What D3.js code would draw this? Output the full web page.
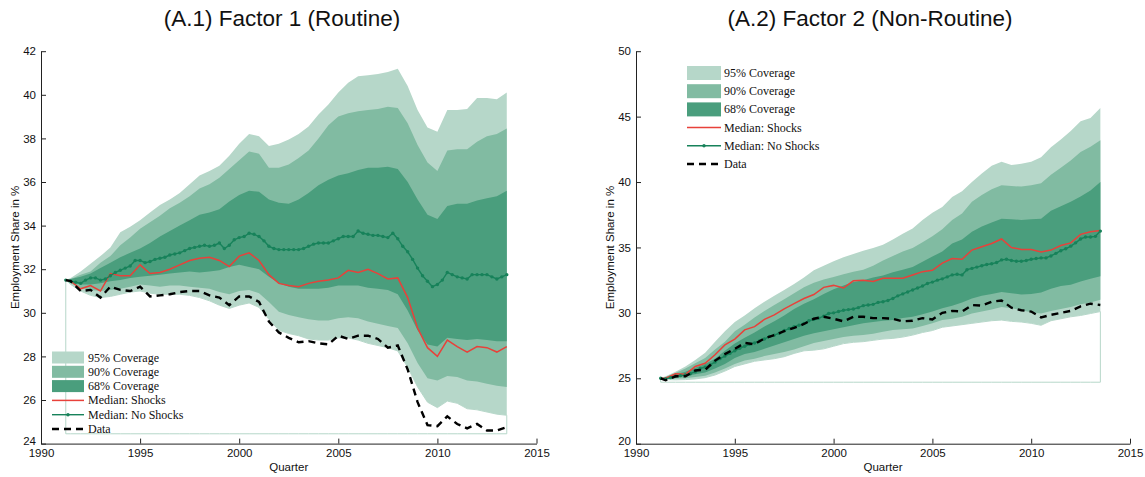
<!DOCTYPE html>
<html>
<head>
<meta charset="utf-8">
<script src="https://cdn.jsdelivr.net/npm/d3@7"></script>
<style>
  html, body { margin: 0; padding: 0; background: #fff; }
  svg { display: block; font-family: "Liberation Sans", Arial, Helvetica, sans-serif; }
  .legend text { font-family: "Liberation Serif", "Times New Roman", serif; font-size: 12px; fill: #111; }
</style>
</head>
<body>
<svg id="chart" width="1145" height="477"></svg>
<script>
// sampling grids (years): half-year for bands / data / shocks median, quarterly for the no-shocks median
const halfYears = [1991.25].concat(d3.range(1991.5, 2013.51, 0.5))
const quarters = d3.range(1991.25, 2013.51, 0.25)

const xTicks = [1990, 1995, 2000, 2005, 2010, 2015]
const legendLabels = ['95% Coverage', '90% Coverage', '68% Coverage', 'Median: Shocks', 'Median: No Shocks', 'Data']

// ---- (A.1) Factor 1 (Routine) ----
const routineHi95 = [31.5, 31.6, 31.9, 32.25, 32.6, 33.0, 33.7, 33.95, 34.25, 34.6, 34.95, 35.2, 35.5, 35.9, 36.3, 36.5, 36.75, 37.2, 37.75, 38.2,
  38.1, 37.65, 37.75, 37.95, 38.2, 38.55, 39.1, 39.55, 40.1, 40.55, 40.85, 40.9, 40.95, 41.05, 41.2, 40.4, 39.3, 38.5, 38.3, 39.3,
  39.3, 39.35, 39.85, 39.85, 39.8, 40.1]
const routineHi90 = [31.5, 31.55, 31.75, 31.9, 32.3, 32.6, 33.1, 33.45, 33.85, 34.15, 34.45, 34.8, 35.05, 35.35, 35.7, 35.9, 36.2, 36.6, 37.0, 37.4,
  37.3, 36.65, 36.65, 36.8, 37.1, 37.45, 38.0, 38.6, 39.0, 39.15, 39.25, 39.3, 39.35, 39.45, 39.4, 38.7, 37.7, 36.9, 36.5, 37.45,
  37.5, 37.5, 37.85, 38.1, 38.2, 38.45]
const routineHi68 = [31.5, 31.55, 31.65, 31.8, 32.05, 32.3, 32.55, 32.75, 32.95, 33.2, 33.5, 33.75, 34.0, 34.25, 34.5, 34.6, 34.75, 35.1, 35.4, 35.6,
  35.55, 35.2, 35.05, 35.0, 35.2, 35.5, 35.85, 36.1, 36.3, 36.4, 36.55, 36.65, 36.65, 36.7, 36.6, 36.0, 35.2, 34.5, 34.3, 34.9,
  35.0, 35.0, 35.15, 35.25, 35.35, 35.6]
const routineLo68 = [31.5, 31.4, 31.3, 31.3, 31.35, 31.45, 31.5, 31.6, 31.65, 31.7, 31.75, 31.8, 31.85, 31.9, 31.85, 31.9, 31.95, 32.1, 32.2, 32.1,
  32.0, 31.65, 31.35, 31.2, 31.1, 31.1, 31.1, 31.15, 31.25, 31.25, 31.25, 31.15, 31.1, 31.05, 30.85, 30.1, 29.2, 28.55, 28.45, 28.85,
  28.8, 28.75, 28.8, 28.75, 28.7, 28.7]
const routineLo90 = [31.5, 31.35, 31.15, 31.05, 31.0, 31.05, 31.1, 31.2, 31.3, 31.25, 31.2, 31.25, 31.25, 31.2, 31.15, 31.1, 30.95, 30.85, 31.0, 31.05,
  30.9, 30.5, 30.05, 29.9, 29.8, 29.7, 29.65, 29.65, 29.75, 29.8, 29.75, 29.6, 29.5, 29.4, 29.3, 28.6, 27.7, 27.0, 26.9, 27.1,
  27.05, 26.9, 26.85, 26.75, 26.65, 26.6]
const routineLo95 = [31.5, 31.3, 31.0, 30.8, 30.7, 30.75, 30.85, 30.95, 31.0, 30.9, 30.85, 30.85, 30.85, 30.8, 30.7, 30.55, 30.35, 30.2, 30.35, 30.45,
  30.25, 29.7, 29.2, 29.05, 28.95, 28.8, 28.75, 28.75, 28.85, 28.85, 28.75, 28.6, 28.5, 28.4, 28.25, 27.5, 26.6, 25.9, 25.65, 25.95,
  25.85, 25.6, 25.55, 25.45, 25.35, 25.3]
const routineShocks = [31.5, 31.45, 31.1, 31.25, 31.0, 31.8, 31.7, 31.7, 32.2, 31.8, 31.85, 32.0, 32.2, 32.4, 32.5, 32.55, 32.4, 32.12, 32.6, 32.75,
  32.4, 31.75, 31.35, 31.25, 31.2, 31.35, 31.45, 31.5, 31.6, 31.95, 31.85, 32.0, 31.8, 31.55, 31.6, 30.7, 29.3, 28.4, 28.0, 28.75,
  28.45, 28.2, 28.45, 28.4, 28.2, 28.45]
const routineData = [31.5, 31.45, 31.0, 31.05, 30.7, 31.2, 31.05, 31.0, 31.2, 30.75, 30.8, 30.85, 30.95, 31.0, 31.0, 30.8, 30.7, 30.35, 30.75, 30.75,
  30.5, 29.6, 29.1, 28.85, 28.65, 28.7, 28.6, 28.55, 28.95, 28.8, 28.95, 28.95, 28.8, 28.4, 28.5, 27.4, 25.9, 24.85, 24.8, 25.25,
  24.9, 24.7, 24.9, 24.6, 24.6, 24.75]
const routineNoShocks = [31.5, 31.45, 31.4,
  31.35, 31.5, 31.6, 31.6,
  31.5, 31.55, 31.7, 31.85,
  31.95, 32.05, 32.15, 32.4,
  32.4, 32.3, 32.35, 32.45,
  32.5, 32.55, 32.65, 32.7,
  32.75, 32.85, 32.95, 33.0,
  33.05, 33.1, 33.05, 33.1,
  33.2, 32.95, 33.1, 33.35,
  33.45, 33.5, 33.65, 33.6,
  33.5, 33.3, 33.05, 32.95,
  32.9, 32.9, 32.9, 32.9,
  32.9, 32.95, 33.05, 33.15,
  33.2, 33.2, 33.2, 33.3,
  33.4, 33.5, 33.5, 33.5,
  33.75, 33.65, 33.6, 33.55,
  33.55, 33.5, 33.45, 33.65,
  33.4, 33.05, 32.8, 32.45,
  32.05, 31.7, 31.45, 31.2,
  31.3, 31.5, 31.85, 31.75,
  31.65, 31.6, 31.55, 31.75,
  31.75, 31.75, 31.75, 31.65,
  31.55, 31.65, 31.75]

// ---- (A.2) Factor 2 (Non-Routine) ----
const nonRoutineHi95 = [25.0, 25.15, 25.5, 25.9, 26.4, 26.95, 27.8, 28.6, 29.3, 29.8, 30.35, 30.85, 31.3, 31.75, 32.2, 32.7, 33.25, 33.6, 33.95, 34.25,
  34.5, 34.75, 34.95, 35.2, 35.6, 36.05, 36.45, 37.1, 37.65, 38.1, 38.85, 39.3, 40.0, 40.65, 41.25, 41.55, 41.3, 41.4, 41.55, 41.9,
  42.65, 43.25, 43.9, 44.65, 44.9, 45.65]
const nonRoutineHi90 = [25.0, 25.1, 25.4, 25.75, 26.15, 26.55, 27.2, 27.8, 28.6, 29.1, 29.65, 30.15, 30.6, 31.05, 31.5, 31.95, 32.3, 32.55, 32.75, 32.95,
  33.15, 33.3, 33.6, 34.0, 34.35, 34.7, 34.95, 35.4, 35.85, 36.4, 37.1, 37.6, 38.5, 39.0, 39.45, 39.75, 39.7, 39.65, 39.75, 39.9,
  40.55, 41.1, 41.65, 42.3, 42.7, 43.2]
const nonRoutineHi68 = [25.0, 25.05, 25.3, 25.5, 25.8, 26.1, 26.5, 27.1, 27.65, 28.1, 28.5, 28.95, 29.35, 29.8, 30.3, 30.7, 31.05, 31.45, 31.8, 32.1,
  32.35, 32.5, 32.7, 32.85, 33.1, 33.3, 33.5, 33.9, 34.3, 34.7, 35.3, 35.6, 36.2, 36.6, 36.9, 37.2, 37.15, 37.1, 37.15, 37.2,
  37.8, 38.15, 38.5, 38.9, 39.35, 40.0]
const nonRoutineLo68 = [25.0, 24.98, 25.05, 25.15, 25.3, 25.45, 25.75, 26.1, 26.55, 26.85, 27.0, 27.25, 27.5, 27.75, 28.0, 28.25, 28.45, 28.6, 28.75, 28.9,
  29.05, 29.2, 29.3, 29.4, 29.45, 29.6, 29.7, 29.9, 30.1, 30.35, 30.55, 30.8, 31.1, 31.3, 31.45, 31.6, 31.5, 31.4, 31.45, 31.55,
  31.85, 32.05, 32.15, 32.4, 32.6, 32.8]
const nonRoutineLo90 = [25.0, 24.95, 24.98, 25.0, 25.1, 25.2, 25.45, 25.75, 26.1, 26.35, 26.5, 26.7, 26.85, 27.0, 27.2, 27.45, 27.7, 27.85, 28.0, 28.15,
  28.25, 28.3, 28.4, 28.55, 28.7, 28.75, 28.8, 29.0, 29.2, 29.45, 29.55, 29.7, 29.95, 30.1, 30.25, 30.45, 30.35, 30.2, 30.05, 29.95,
  30.15, 30.3, 30.45, 30.65, 30.8, 31.0]
const nonRoutineLo95 = [25.0, 24.9, 24.88, 24.9, 24.95, 25.05, 25.25, 25.55, 25.9, 26.1, 26.3, 26.4, 26.5, 26.65, 26.9, 27.1, 27.15, 27.25, 27.45, 27.65,
  27.75, 27.8, 27.9, 28.0, 28.05, 28.15, 28.3, 28.5, 28.65, 28.9, 29.0, 29.1, 29.2, 29.3, 29.4, 29.45, 29.35, 29.3, 29.2, 29.05,
  29.4, 29.55, 29.7, 29.8, 29.95, 30.1]
const nonRoutineShocks = [25.0, 25.0, 25.35, 25.3, 25.9, 26.15, 26.8, 27.55, 28.0, 28.7, 28.95, 29.5, 29.85, 30.3, 30.7, 31.1, 31.4, 31.95, 32.1, 31.9,
  32.45, 32.5, 32.4, 32.65, 32.65, 32.65, 32.9, 33.15, 33.25, 33.8, 34.15, 34.1, 34.8, 35.05, 35.3, 35.65, 35.0, 34.85, 34.85, 34.65,
  34.8, 35.15, 35.35, 36.0, 36.2, 36.3]
const nonRoutineData = [25.0, 24.85, 25.15, 25.15, 25.6, 25.65, 26.35, 26.85, 27.25, 27.7, 27.6, 28.05, 28.3, 28.6, 28.85, 29.15, 29.55, 29.7, 29.55, 29.35,
  29.7, 29.7, 29.6, 29.6, 29.55, 29.35, 29.4, 29.6, 29.5, 30.0, 30.15, 30.1, 30.6, 30.55, 30.85, 30.95, 30.4, 30.2, 30.1, 29.65,
  29.85, 30.0, 30.15, 30.5, 30.7, 30.6]
const nonRoutineNoShocks = [25.0, 24.95, 25.05,
  25.15, 25.2, 25.25, 25.35,
  25.5, 25.75, 25.85, 26.0,
  26.25, 26.5, 26.7, 26.9,
  27.1, 27.3, 27.45, 27.6,
  27.7, 27.85, 28.0, 28.2,
  28.3, 28.45, 28.65, 28.8,
  28.95, 29.05, 29.2, 29.4,
  29.5, 29.6, 29.75, 29.95,
  30.0, 30.1, 30.2, 30.25,
  30.3, 30.4, 30.55, 30.6,
  30.65, 30.8, 30.85, 30.95,
  31.1, 31.3, 31.45, 31.6,
  31.75, 31.9, 32.05, 32.25,
  32.35, 32.5, 32.6, 32.75,
  32.9, 32.95, 32.9, 33.3,
  33.4, 33.5, 33.6, 33.7,
  33.75, 33.85, 34.05, 34.1,
  34.0, 33.95, 33.95, 34.0,
  34.1, 34.15, 34.2, 34.2,
  34.35, 34.55, 34.75, 34.9,
  35.1, 35.35, 35.65, 35.8,
  35.8, 35.85, 36.25]

const C95 = '#b6d7c9'
const C90 = '#81bba2'
const C68 = '#4a9e7d'
const RED = '#e8413a'
const GREEN = '#17825a'

const svg = d3.select('#chart')

const panels = [
  {
    title: '(A.1) Factor 1 (Routine)', titleX: 282,
    xRange: [41, 536.5], yRange: [443.6, 51.2], yDomain: [24, 42], yTicks: d3.range(24, 43, 2),
    baseline: 24.45, ylabX: 19,
    legend: { x: 52, y: 357.5, w: 32, h: 12, row: 14.3, textX: 88 },
    hi95: routineHi95, hi90: routineHi90, hi68: routineHi68, lo68: routineLo68, lo90: routineLo90, lo95: routineLo95,
    shocks: routineShocks, noShocks: routineNoShocks, data: routineData
  },
  {
    title: '(A.2) Factor 2 (Non-Routine)', titleX: 870,
    xRange: [636, 1130], yRange: [443.7, 51.2], yDomain: [20, 50], yTicks: d3.range(20, 51, 5),
    baseline: 24.7, ylabX: 614,
    legend: { x: 687, y: 73, w: 34, h: 14, row: 18.2, textX: 724 },
    hi95: nonRoutineHi95, hi90: nonRoutineHi90, hi68: nonRoutineHi68, lo68: nonRoutineLo68, lo90: nonRoutineLo90, lo95: nonRoutineLo95,
    shocks: nonRoutineShocks, noShocks: nonRoutineNoShocks, data: nonRoutineData
  }
]

panels.forEach(p => {
  const x = d3.scaleLinear().domain([1990, 2015]).range(p.xRange)
  const y = d3.scaleLinear().domain(p.yDomain).range(p.yRange)
  const g = svg.append('g')

  const band = (lo, hi) => d3.area()
    .x((d, i) => x(halfYears[i])).y0((d, i) => y(lo[i])).y1((d, i) => y(hi[i]))(hi)

  g.append('path').attr('d', band(p.lo95, p.hi95)).attr('fill', C95)
  g.append('path').attr('d', band(p.lo90, p.hi90)).attr('fill', C90)
  g.append('path').attr('d', band(p.lo68, p.hi68)).attr('fill', C68)

  // white base of the stacked areas, with its thin outline
  const base = d3.area().x((d, i) => x(halfYears[i])).y0(y(p.baseline)).y1(d => y(d))
  g.append('path').attr('d', base(p.lo95)).attr('fill', '#fff')
    .attr('stroke', C95).attr('stroke-width', 1)

  const line = xs => d3.line().x((d, i) => x(xs[i])).y(d => y(d))

  g.append('path').attr('d', line(halfYears)(p.shocks))
    .attr('fill', 'none').attr('stroke', RED).attr('stroke-width', 1.5)

  g.append('path').attr('d', line(quarters)(p.noShocks))
    .attr('fill', 'none').attr('stroke', GREEN).attr('stroke-width', 1.4)
  g.append('g').selectAll('circle').data(p.noShocks).join('circle')
    .attr('cx', (d, i) => x(quarters[i])).attr('cy', d => y(d)).attr('r', 1.7).attr('fill', GREEN)

  g.append('path').attr('d', line(halfYears)(p.data))
    .attr('fill', 'none').attr('stroke', '#000').attr('stroke-width', 2.4)
    .attr('stroke-dasharray', '7,5')

  // axes (MATLAB style: ticks pointing in, no box)
  const xAxisG = g.append('g').attr('transform', `translate(0,${p.yRange[0]})`)
    .call(d3.axisBottom(x).tickValues(xTicks).tickFormat(d3.format('d'))
      .tickSizeInner(-5).tickSizeOuter(0).tickPadding(5))
  const yAxisG = g.append('g').attr('transform', `translate(${p.xRange[0]},0)`)
    .call(d3.axisLeft(y).tickValues(p.yTicks).tickSizeInner(-5).tickSizeOuter(0).tickPadding(5))
  ;[xAxisG, yAxisG].forEach(a => {
    a.attr('font-family', null).attr('font-size', 11.5)
    a.select('.domain').attr('stroke', '#222')
    a.selectAll('.tick line').attr('stroke', '#222')
    a.selectAll('.tick text').attr('fill', '#111')
  })
  // lowest y label sits just above the x labels, as in the original
  yAxisG.selectAll('.tick text').filter(d => d === p.yDomain[0]).attr('dy', '0.1em')

  g.append('text').attr('x', (p.xRange[0] + p.xRange[1]) / 2).attr('y', 471)
    .attr('text-anchor', 'middle').attr('font-size', 11.5).attr('fill', '#111').text('Quarter')
  g.append('text')
    .attr('transform', `translate(${p.ylabX},${(p.yRange[0] + p.yRange[1]) / 2}) rotate(-90)`)
    .attr('text-anchor', 'middle').attr('font-size', 11.5).attr('fill', '#111').text('Employment Share in %')
  g.append('text').attr('x', p.titleX).attr('y', 26)
    .attr('text-anchor', 'middle').attr('font-size', 22.5).attr('fill', '#111').text(p.title)

  // legend
  const L = p.legend
  const lg = g.append('g').attr('class', 'legend')
  legendLabels.forEach((label, i) => {
    const cy = L.y + i * L.row
    if (i < 3) {
      lg.append('rect').attr('x', L.x).attr('y', cy - L.h / 2).attr('width', L.w).attr('height', L.h)
        .attr('fill', [C95, C90, C68][i])
    } else if (i === 3) {
      lg.append('line').attr('x1', L.x).attr('x2', L.x + L.w).attr('y1', cy).attr('y2', cy)
        .attr('stroke', RED).attr('stroke-width', 1.5)
    } else if (i === 4) {
      lg.append('line').attr('x1', L.x).attr('x2', L.x + L.w).attr('y1', cy).attr('y2', cy)
        .attr('stroke', GREEN).attr('stroke-width', 1.4)
      lg.append('circle').attr('cx', L.x + L.w / 2).attr('cy', cy).attr('r', 1.7).attr('fill', GREEN)
    } else {
      lg.append('line').attr('x1', L.x).attr('x2', L.x + L.w).attr('y1', cy).attr('y2', cy)
        .attr('stroke', '#000').attr('stroke-width', 2.4).attr('stroke-dasharray', '7,5')
    }
    lg.append('text').attr('x', L.textX).attr('y', cy + 4).text(label)
  })
})
</script>
</body>
</html>
